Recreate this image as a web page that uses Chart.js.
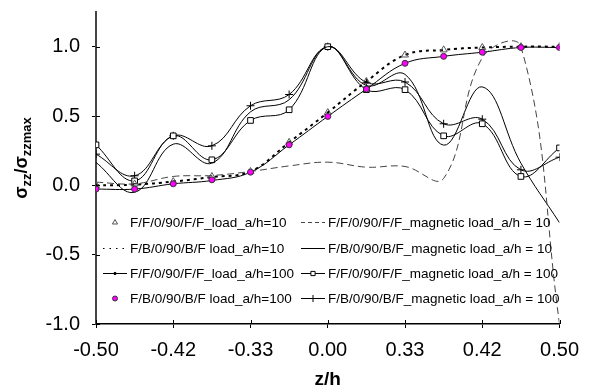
<!DOCTYPE html>
<html>
<head>
<meta charset="utf-8">
<script src="https://cdn.jsdelivr.net/npm/chart.js@4.4.0/dist/chart.umd.min.js"></script>
<style>
html, body { margin: 0; padding: 0; background: #fff; }
</style>
</head>
<body>
<canvas id="stressChart" width="589" height="387"></canvas>
<script>
// tick labels on z/h axis (13 data stations, every second one labelled)
var zTickLabels = ['-0.50', '-0.42', '-0.33', '0.00', '0.33', '0.42', '0.50'];

// normalized stress sigma_zz / sigma_zzmax at each station
var ffLoad10      = [0.0, 0.01, 0.027, 0.064, 0.10, 0.31, 0.525, 0.749, 0.94, 0.977, 0.994, 1.0, 1.0];
var ffMagnetic10  = [0.023, 0.011, 0.064, 0.071, 0.10, 0.14, 0.167, 0.131, 0.136, 0.05, 0.92, 1.0, -1.0];
var fbLoad10      = [0.0, 0.005, 0.027, 0.06, 0.10, 0.31, 0.525, 0.749, 0.94, 0.977, 0.994, 1.0, 1.0];
var fbMagnetic10  = [0.165, -0.05, 0.297, 0.16, 0.53, 0.617, 1.0, 0.72, 0.80, 0.29, 0.71, 0.16, -0.27];
var ffLoad100     = [-0.027, -0.027, 0.011, 0.035, 0.095, 0.292, 0.497, 0.694, 0.88, 0.93, 0.96, 0.994, 0.994];
var ffMagnetic100 = [0.292, 0.032, 0.357, 0.184, 0.468, 0.545, 1.0, 0.69, 0.69, 0.357, 0.444, 0.064, 0.27];
var fbLoad100     = [-0.027, -0.027, 0.011, 0.04, 0.095, 0.292, 0.497, 0.694, 0.88, 0.93, 0.96, 0.994, 0.994];
var fbMagnetic100 = [0.225, 0.069, 0.357, 0.285, 0.574, 0.655, 1.0, 0.742, 0.745, 0.444, 0.477, 0.112, 0.203];

var FONT = 'Arial, "Liberation Sans", sans-serif';

function toPoints(arr) {
    return arr.map(function (v, i) { return { x: i, y: v }; });
}

function series(label, values, opts) {
    var ds = {
        label: label,
        data: toPoints(values),
        borderColor: '#000',
        backgroundColor: '#000',
        borderWidth: 1,
        tension: 0.4,
        pointRadius: 0,
        pointBorderWidth: 1,
        order: 1
    };
    for (var k in opts) ds[k] = opts[k];
    return ds;
}

// legend* fields only affect the legend samples
var datasets = [
    series('F/F/0/90/F/F_load_a/h=10', ffLoad10, {
        showLine: false, pointStyle: 'triangle', pointRadius: 4,
        borderColor: '#555', backgroundColor: 'rgba(255,255,255,0)',
        legendRadius: 3
    }),
    series('F/F/0/90/F/F_magnetic load_a/h = 10', ffMagnetic10, {
        borderColor: '#444', borderDash: [7, 4], legendDash: [4, 3]
    }),
    series('F/B/0/90/B/F load_a/h=10', fbLoad10, {
        borderWidth: 2, borderDash: [3, 4], legendDash: [1.5, 5], legendWidth: 1.2
    }),
    series('F/B/0/90/B/F_magnetic load_a/h = 10', fbMagnetic10, {}),
    series('F/F/0/90/F/F_load_a/h=100', ffLoad100, {
        pointStyle: 'circle', pointRadius: 1.5, legendRadius: 1.2
    }),
    series('F/F/0/90/F/F_magnetic load_a/h = 100', ffMagnetic100, {
        pointStyle: 'rect', pointRadius: 4, backgroundColor: '#fff', legendRadius: 3
    }),
    series('F/B/0/90/B/F load_a/h=100', fbLoad100, {
        showLine: false, pointStyle: 'circle', pointRadius: 3,
        borderColor: '#333', backgroundColor: '#ff00ff', order: 0, legendRadius: 2.5
    }),
    series('F/B/0/90/B/F_magnetic load_a/h = 100', fbMagnetic100, {
        pointStyle: 'cross', pointRadius: 4, legendRadius: 3.5
    })
];

// tick marks that cross the axis lines (inner half)
var innerTicks = {
    id: 'innerTicks',
    afterDraw: function (chart) {
        var ctx = chart.ctx, area = chart.chartArea;
        var xs = chart.scales.x, ys = chart.scales.y;
        ctx.save();
        ctx.strokeStyle = '#000';
        ctx.lineWidth = 1;
        ctx.beginPath();
        ys.ticks.forEach(function (t) {
            var y = Math.round(ys.getPixelForValue(t.value)) + 0.5;
            ctx.moveTo(area.left, y);
            ctx.lineTo(area.left + 4, y);
        });
        xs.ticks.forEach(function (t) {
            var x = Math.round(xs.getPixelForValue(t.value)) + 0.5;
            ctx.moveTo(x, area.bottom);
            ctx.lineTo(x, area.bottom - 4);
        });
        ctx.stroke();
        ctx.restore();
    }
};

// y title with subscripts
var yTitle = {
    id: 'yTitle',
    afterDraw: function (chart) {
        var ctx = chart.ctx;
        var parts = [
            { t: '\u03c3', size: 18, dy: 0 },
            { t: 'zz', size: 13, dy: 4 },
            { t: '/\u03c3', size: 18, dy: 0 },
            { t: 'zzmax', size: 13, dy: 4 }
        ];
        ctx.save();
        var total = 0;
        parts.forEach(function (p) {
            ctx.font = 'bold ' + p.size + 'px ' + FONT;
            p.w = ctx.measureText(p.t).width;
            total += p.w;
        });
        ctx.translate(27, 158);
        ctx.rotate(-Math.PI / 2);
        ctx.fillStyle = '#000';
        ctx.textBaseline = 'alphabetic';
        var x = -total / 2;
        parts.forEach(function (p) {
            ctx.font = 'bold ' + p.size + 'px ' + FONT;
            ctx.fillText(p.t, x, p.dy);
            x += p.w;
        });
        ctx.restore();
    }
};

// two-column legend placed inside the plot area
var insideLegend = {
    id: 'insideLegend',
    afterDraw: function (chart) {
        var ctx = chart.ctx;
        var colX = [103, 301];
        var rowY = [222, 248, 273, 298];
        ctx.save();
        chart.data.datasets.forEach(function (ds, i) {
            var x0 = colX[i % 2], y = rowY[Math.floor(i / 2)];
            if (ds.showLine !== false) {
                ctx.strokeStyle = ds.borderColor;
                ctx.lineWidth = ds.legendWidth || ds.borderWidth;
                ctx.setLineDash(ds.legendDash || []);
                ctx.beginPath();
                ctx.moveTo(x0, y + 0.5);
                ctx.lineTo(x0 + 24, y + 0.5);
                ctx.stroke();
                ctx.setLineDash([]);
            }
            if (ds.pointRadius > 0) {
                ctx.strokeStyle = ds.borderColor;
                ctx.fillStyle = ds.backgroundColor;
                ctx.lineWidth = 1;
                Chart.helpers.drawPoint(ctx, {
                    pointStyle: ds.pointStyle, radius: ds.legendRadius || ds.pointRadius,
                    rotation: 0, borderWidth: 1
                }, x0 + 12, y + 0.5);
            }
            ctx.fillStyle = '#000';
            ctx.font = '13.5px ' + FONT;
            ctx.textBaseline = 'middle';
            ctx.textAlign = 'left';
            ctx.fillText(ds.label, x0 + 27, y + 1);
        });
        ctx.restore();
    }
};

new Chart(document.getElementById('stressChart'), {
    type: 'line',
    data: { datasets: datasets },
    options: {
        responsive: false,
        animation: false,
        events: [],
        layout: { padding: { top: 12, right: 22, left: 0, bottom: 0 } },
        plugins: {
            legend: { display: false },
            tooltip: { enabled: false }
        },
        scales: {
            x: {
                type: 'linear',
                min: 0,
                max: 12,
                afterFit: function (scale) { scale.height = 63; },
                border: { color: '#000', width: 1.5 },
                grid: { drawOnChartArea: false, tickLength: 4, color: '#000' },
                ticks: {
                    stepSize: 2,
                    padding: 10,
                    color: '#000',
                    maxRotation: 0,
                    font: { size: 20, family: FONT },
                    callback: function (v) { return zTickLabels[v / 2]; }
                },
                title: {
                    display: true,
                    text: 'z/h',
                    color: '#000',
                    font: { size: 19, weight: 'bold', family: FONT },
                    padding: { top: 0, bottom: -4 }
                }
            },
            y: {
                min: -1,
                max: 1.25,
                afterFit: function (scale) {
                    scale.width = 96;
                    scale.paddingTop = 0;
                    scale.paddingBottom = 0;
                },
                border: { color: '#444', width: 2 },
                grid: { drawOnChartArea: false, tickLength: 4, color: '#000' },
                ticks: {
                    stepSize: 0.5,
                    includeBounds: false,
                    padding: 12,
                    color: '#000',
                    font: { size: 20, family: FONT },
                    callback: function (v) { return v.toFixed(1); }
                }
            }
        }
    },
    plugins: [innerTicks, yTitle, insideLegend]
});
</script>
</body>
</html>
